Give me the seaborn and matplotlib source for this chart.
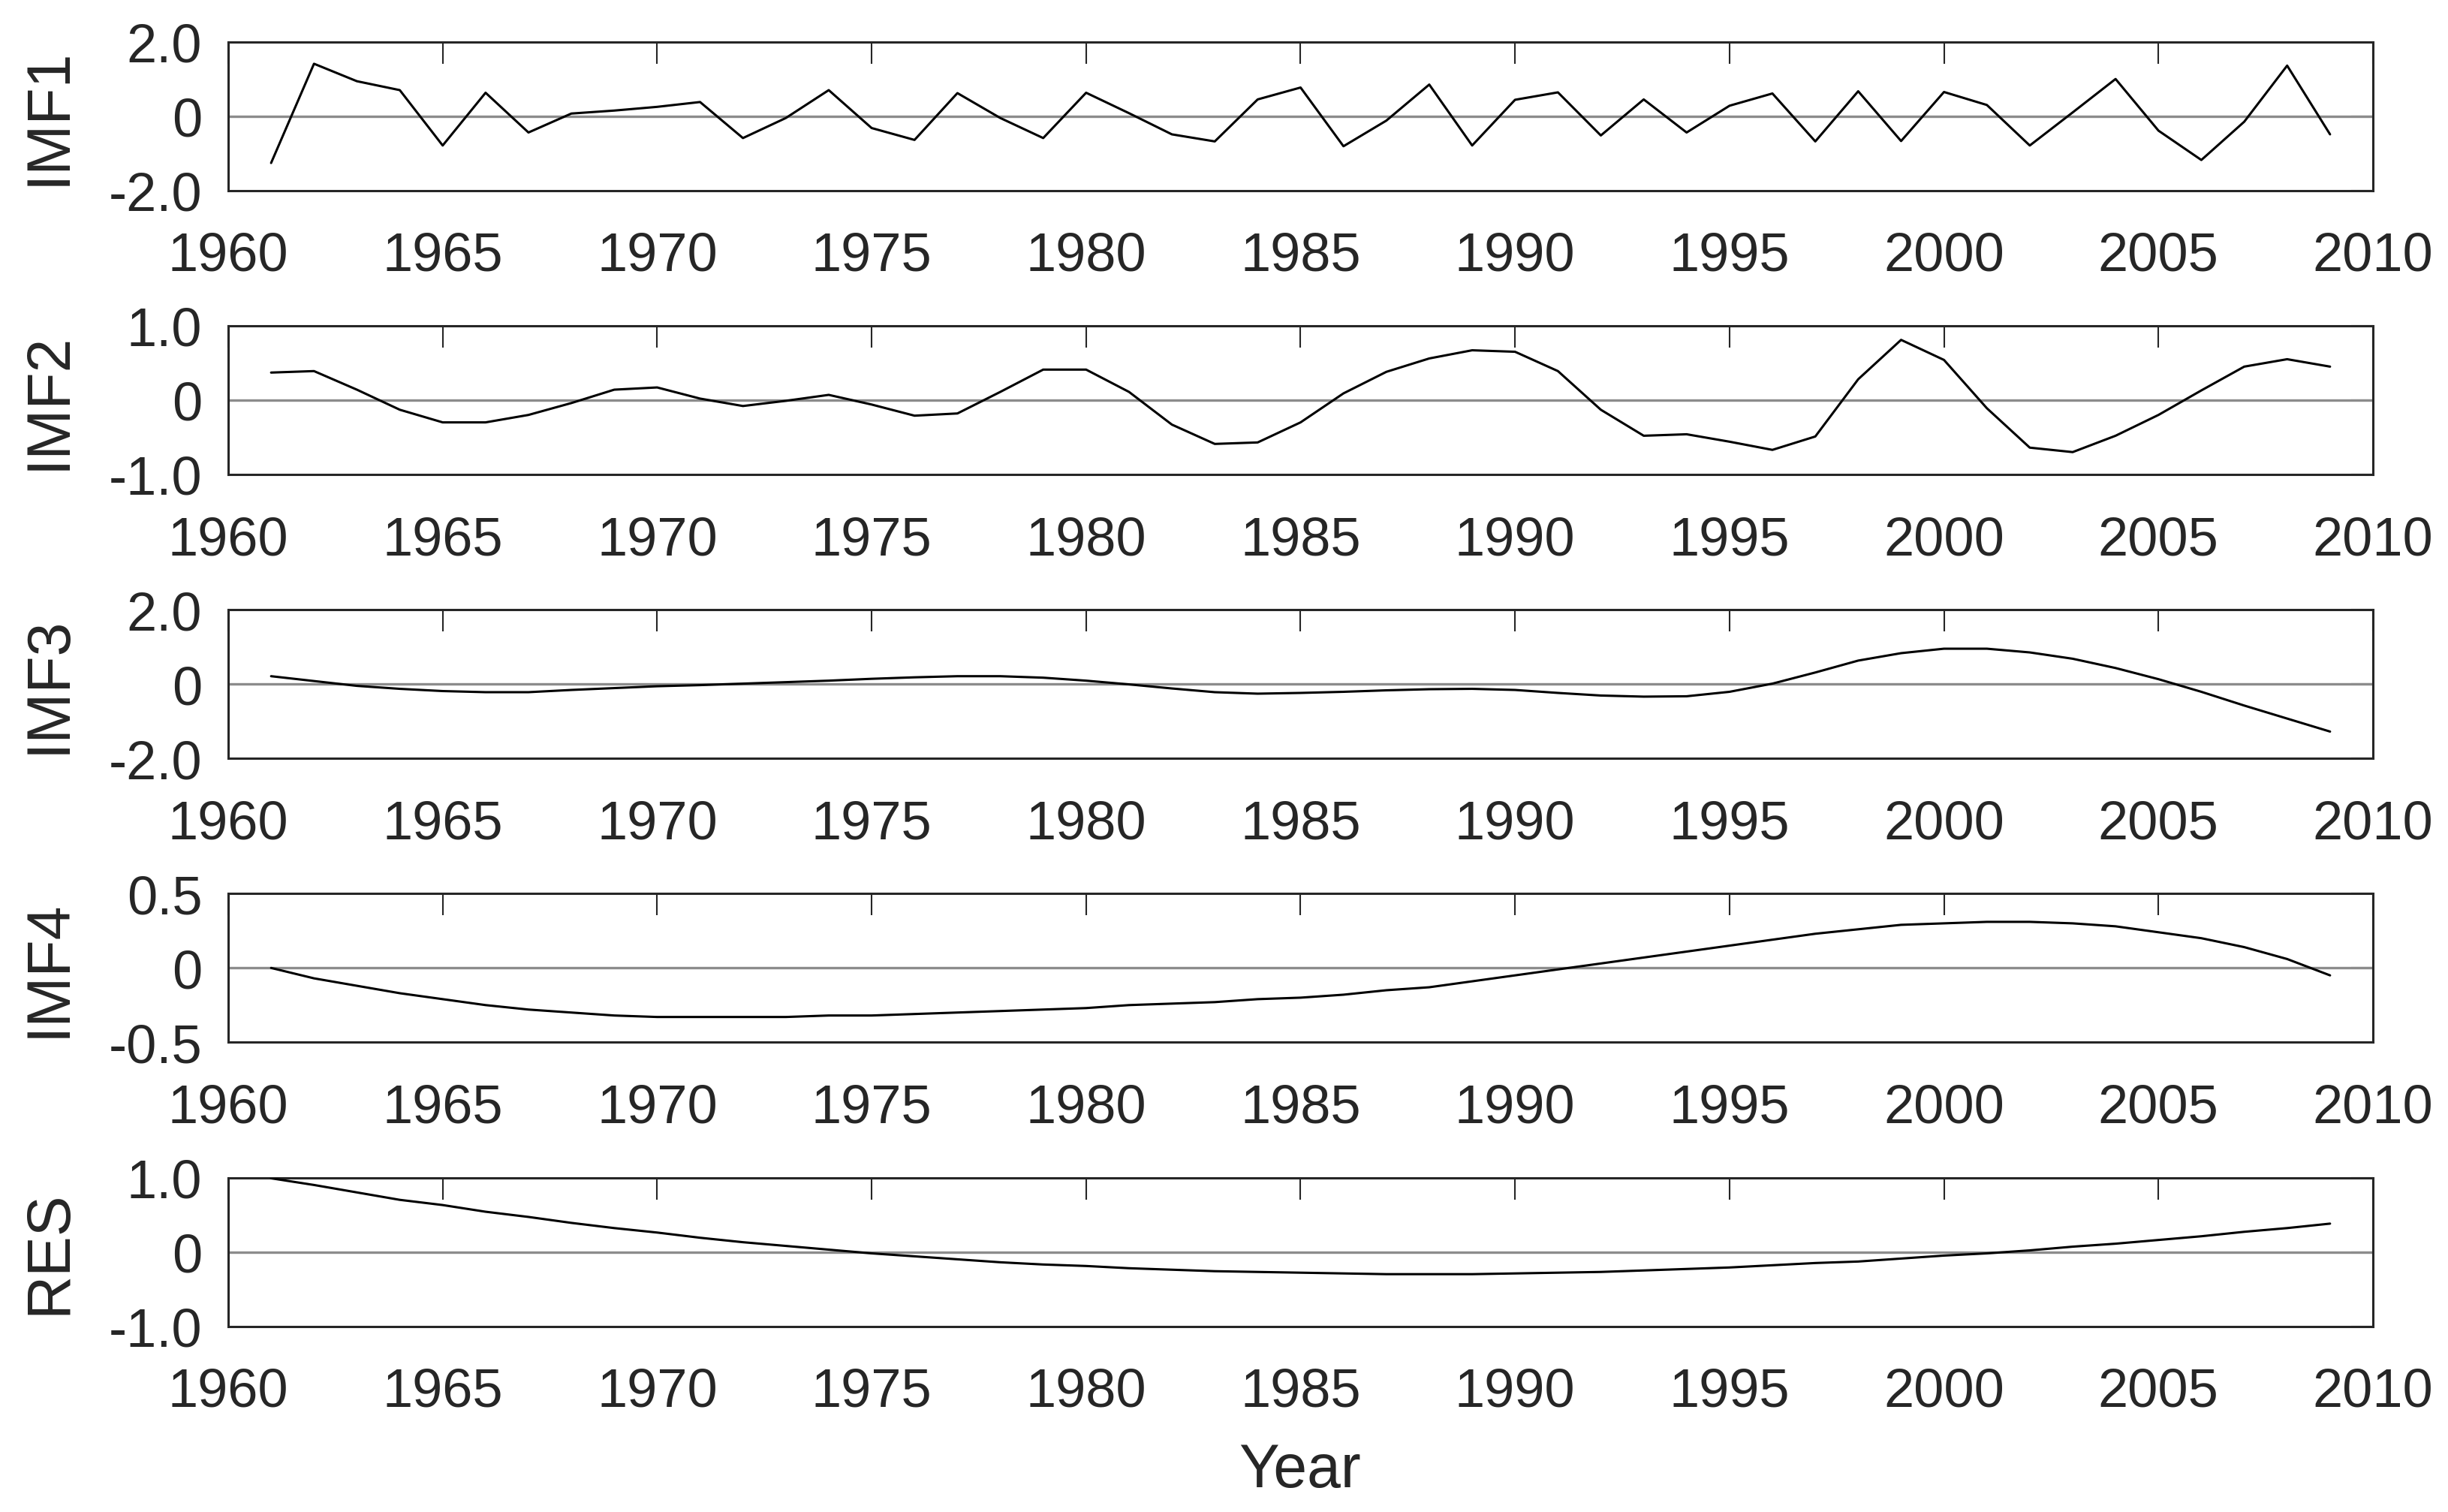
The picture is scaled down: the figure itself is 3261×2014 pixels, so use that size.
import numpy as np
import pandas as pd
import matplotlib
matplotlib.use("Agg")
import matplotlib.pyplot as plt
import seaborn as sns

sns.set_theme(style="white")
plt.rcParams['font.family'] = ['Liberation Sans', 'DejaVu Sans']

years = list(range(1961, 2010))

imf1 = [-1.26, 1.41, 0.94, 0.70, -0.79, 0.63, -0.44, 0.07, 0.15, 0.25,
        0.38, -0.59, -0.05, 0.70, -0.32, -0.64, 0.62, -0.05, -0.59, 0.63,
        0.08, -0.49, -0.68, 0.45, 0.77, -0.81, -0.12, 0.85, -0.79, 0.44,
        0.64, -0.52, 0.45, -0.44, 0.28, 0.61, -0.68, 0.67, -0.67, 0.65,
        0.30, -0.79, 0.10, 1.00, -0.39, -1.18, -0.15, 1.36, -0.49]

imf2 = [0.37, 0.39, 0.14, -0.13, -0.30, -0.30, -0.20, -0.04, 0.14, 0.17,
        0.02, -0.08, -0.01, 0.07, -0.06, -0.21, -0.18, 0.11, 0.41, 0.41,
        0.11, -0.33, -0.59, -0.57, -0.30, 0.09, 0.38, 0.56, 0.67, 0.65,
        0.39, -0.13, -0.48, -0.46, -0.56, -0.67, -0.49, 0.28, 0.81, 0.54,
        -0.11, -0.64, -0.70, -0.48, -0.20, 0.13, 0.45, 0.55, 0.45]

imf3 = [0.21, 0.08, -0.05, -0.13, -0.19, -0.22, -0.22, -0.16, -0.11, -0.06,
        -0.03, 0.01, 0.05, 0.09, 0.14, 0.18, 0.21, 0.21, 0.17, 0.09,
        -0.01, -0.12, -0.22, -0.26, -0.24, -0.21, -0.17, -0.14, -0.13, -0.16,
        -0.24, -0.31, -0.34, -0.33, -0.21, 0.01, 0.31, 0.63, 0.83, 0.95,
        0.95, 0.85, 0.68, 0.43, 0.13, -0.21, -0.58, -0.93, -1.28]

imf4 = [0.00, -0.07, -0.12, -0.17, -0.21, -0.25, -0.28, -0.30, -0.32, -0.33,
        -0.33, -0.33, -0.33, -0.32, -0.32, -0.31, -0.30, -0.29, -0.28, -0.27,
        -0.25, -0.24, -0.23, -0.21, -0.20, -0.18, -0.15, -0.13, -0.09, -0.05,
        -0.01, 0.03, 0.07, 0.11, 0.15, 0.19, 0.23, 0.26, 0.29, 0.30,
        0.31, 0.31, 0.30, 0.28, 0.24, 0.20, 0.14, 0.06, -0.05]

res = [0.99, 0.90, 0.80, 0.70, 0.63, 0.54, 0.47, 0.39, 0.32, 0.26,
       0.19, 0.13, 0.08, 0.03, -0.02, -0.06, -0.10, -0.14, -0.17, -0.19,
       -0.22, -0.24, -0.26, -0.27, -0.28, -0.29, -0.30, -0.30, -0.30, -0.29,
       -0.28, -0.27, -0.25, -0.23, -0.21, -0.18, -0.15, -0.13, -0.09, -0.05,
       -0.02, 0.02, 0.07, 0.11, 0.16, 0.21, 0.27, 0.32, 0.38]

names = ["IMF1", "IMF2", "IMF3", "IMF4", "RES"]
limits = [2.0, 1.0, 2.0, 0.5, 1.0]
ytick_labels = [["-2.0", "0", "2.0"], ["-1.0", "0", "1.0"], ["-2.0", "0", "2.0"],
                ["-0.5", "0", "0.5"], ["-1.0", "0", "1.0"]]
xticks = list(range(1960, 2011, 5))

df = pd.DataFrame({"Year": years, "IMF1": imf1, "IMF2": imf2, "IMF3": imf3,
                   "IMF4": imf4, "RES": res})

W, H = 3261, 2015
fig = plt.figure(figsize=(W / 100, H / 100), dpi=100)

left = 304 / W
width = (3161 - 304) / W
ax_h = 198
ink = "#262626"

for i, name in enumerate(names):
    top_px = 56.7 + i * 378.2
    ax = fig.add_axes([left, 1 - (top_px + ax_h) / H, width, ax_h / H])
    ax.axhline(0, color="#8c8c8c", lw=2.4, zorder=1)
    sns.lineplot(data=df, x="Year", y=name, ax=ax, color="black", lw=2.2, zorder=3)
    lim = limits[i]
    ax.set_xlim(1960, 2010)
    ax.set_ylim(-lim, lim)
    ax.set_xticks(xticks)
    ax.set_xticklabels([str(t) for t in xticks])
    ax.set_yticks([-lim, 0, lim])
    ax.set_yticklabels(ytick_labels[i])
    ax.tick_params(axis="both", direction="in", length=21, width=1.5, color=ink,
                   labelsize=52, labelcolor=ink, top=True, right=True)
    ax.tick_params(axis="x", pad=39)
    ax.tick_params(axis="y", pad=25)
    for s in ax.spines.values():
        s.set_visible(True)
        s.set_color(ink)
        s.set_linewidth(2.2)
    ax.set_xlabel("")
    ax.set_ylabel("")
    fig.text(66 / W, 1 - (top_px + ax_h / 2) / H, name, rotation=90,
             ha="center", va="center", fontsize=58, color=ink)

fig.text(1732 / W, 1 - 1960 / H, "Year", ha="center", va="center",
         fontsize=58, color=ink)

fig.savefig("out.png", dpi=100, facecolor="white")
